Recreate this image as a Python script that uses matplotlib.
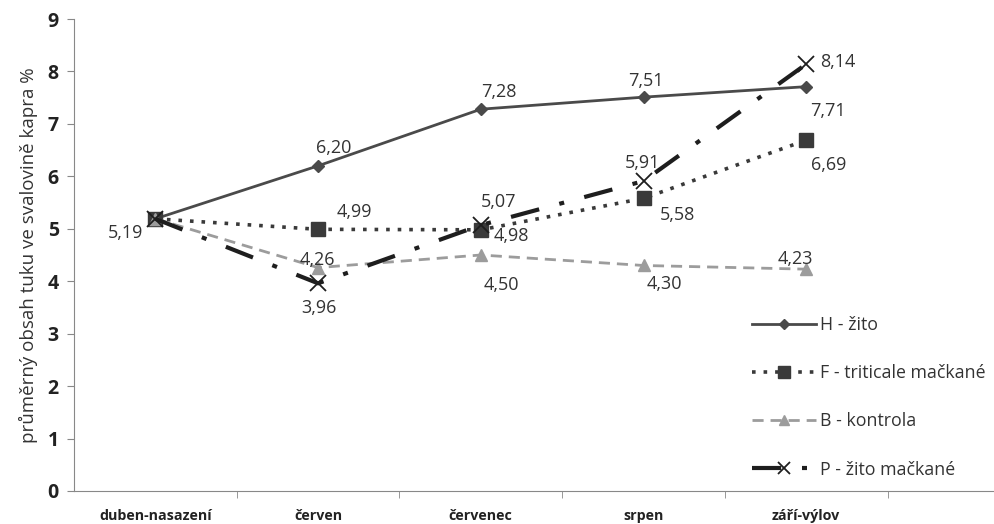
import matplotlib.pyplot as plt

# data
months = ["duben-nasazení", "červen", "červenec", "srpen", "září-výlov"]
h_zito = [5.19, 6.20, 7.28, 7.51, 7.71]
f_triticale = [5.19, 4.99, 4.98, 5.58, 6.69]
b_kontrola = [5.19, 4.26, 4.50, 4.30, 4.23]
p_zito_mackane = [5.19, 3.96, 5.07, 5.91, 8.14]
series_names = ["H - žito", "F - triticale mačkané", "B - kontrola", "P - žito mačkané"]

plt.rcParams["font.family"] = ["Open Sans", "DejaVu Sans"]

fig = plt.figure(figsize=(9.95, 5.24), dpi=100)
ax = fig.add_axes([74 / 995, 33 / 524, 1 - 74 / 995, 472 / 524])

x = list(range(len(months)))

ax.plot(x, h_zito, color="#4a4a4a", lw=2, marker="D", ms=6, label=series_names[0])
ax.plot(x, f_triticale, color="#3a3a3a", lw=2.6, ls=(0, (1, 2.2)), marker="s", ms=10.5,
        label=series_names[1])
ax.plot(x, b_kontrola, color="#9c9c9c", lw=2, ls=(0, (4, 2.5)), marker="^", ms=8,
        label=series_names[2])
ax.plot(x, p_zito_mackane, color="#1e1e1e", lw=3, ls=(0, (7, 5, 1.2, 5)), marker="x", ms=11,
        mew=1.3, label=series_names[3])

# data labels, offsets in pixels
offsets = {
    0: [(-30, -14), (16, 18), (18, 17), (2, 16), (22, -24)],
    1: [None, (36, 17), (31, -6), (34, -17), (22, -25)],
    2: [None, (-1, 8), (21, -30), (21, -19), (-11, 10)],
    3: [None, (1, -25), (18, 23), (-1, 18), (32, 2)],
}
for k, vals in enumerate([h_zito, f_triticale, b_kontrola, p_zito_mackane]):
    for i, v in enumerate(vals):
        off = offsets[k][i]
        if off is None:
            continue
        ax.annotate(f"{v:.2f}".replace(".", ","), (i, v), xytext=off,
                    textcoords="offset pixels", ha="center", va="center",
                    fontsize=13, color="#333333")

ax.set_xlim(-0.5, 5.16)
ax.set_ylim(0, 9)
ax.set_yticks(range(10))
ax.set_xticks(x)
ax.set_xticklabels(months, fontsize=10.3, fontweight="bold", color="#222222")
ax.set_xticks([i + 0.5 for i in x], minor=True)
ax.tick_params(axis="x", which="major", length=0, pad=13)
ax.tick_params(axis="x", which="minor", length=5, color="#888888")
ax.tick_params(axis="y", length=5, color="#888888", labelsize=14, pad=6)
for t in ax.get_yticklabels():
    t.set_fontweight("bold")
    t.set_color("#222222")

for s in ["top", "right"]:
    ax.spines[s].set_visible(False)
ax.spines["left"].set_color("#888888")
ax.spines["bottom"].set_color("#888888")

ax.set_ylabel("průměrný obsah tuku ve svalovině kapra %", fontsize=13.5, color="#333333",
              labelpad=7)

ax.legend(loc="upper left", bbox_to_anchor=(736 / 995, 1 - 300 / 524), bbox_transform=fig.transFigure,
          frameon=False, fontsize=12.8, labelspacing=1.7, handlelength=3.6, handletextpad=0.2,
          labelcolor="#333333", markerscale=0.85)

fig.savefig("out.png", dpi=100)
